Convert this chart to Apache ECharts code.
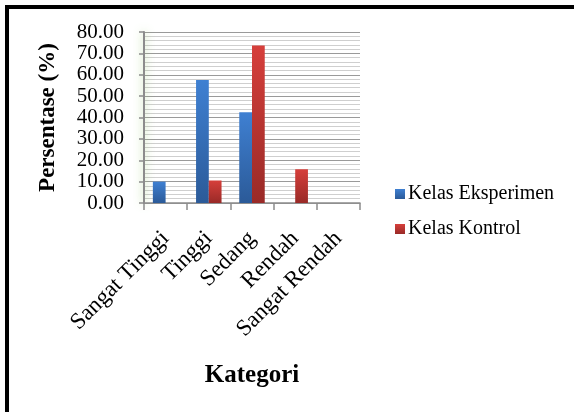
<!DOCTYPE html>
<html>
<head>
<meta charset="utf-8">
<style>
  html, body { margin: 0; padding: 0; background: #fff; }
  #chart { width: 574px; height: 412px; }
</style>
<script src="https://cdn.jsdelivr.net/npm/echarts@6/dist/echarts.min.js"></script>
</head>
<body>
<div id="chart"></div>
<script>
// Kategori hasil belajar
const categories = ['Sangat Tinggi', 'Tinggi', 'Sedang', 'Rendah', 'Sangat Rendah'];
// Persentase tiap kelas (%)
const kelasEksperimen = [10.00, 57.50, 42.50, 0, 0];
const kelasKontrol = [0, 10.53, 73.68, 15.79, 0];
const seriesNames = ['Kelas Eksperimen', 'Kelas Kontrol'];

const serif = '"Liberation Serif", "Times New Roman", serif';

function vGrad(top, bottom) {
  return new echarts.graphic.LinearGradient(0, 0, 0, 1, [
    { offset: 0, color: top },
    { offset: 1, color: bottom }
  ]);
}

const chart = echarts.init(document.getElementById('chart'), null, { renderer: 'canvas' });

chart.setOption({
  animation: false,
  backgroundColor: '#fff',
  graphic: [
    { type: 'rect', shape: { x: 5, y: 5, width: 569, height: 4 }, style: { fill: '#000' } },
    { type: 'rect', shape: { x: 5, y: 5, width: 4, height: 407 }, style: { fill: '#000' } }
  ],
  grid: { left: 144, right: 214, top: 32, bottom: 209, containLabel: false },
  legend: {
    orient: 'vertical',
    left: 390,
    top: 179,
    itemWidth: 10,
    itemHeight: 10,
    itemGap: 15,
    icon: 'rect',
    textStyle: { fontFamily: serif, fontSize: 20, color: '#000', padding: [0, 0, 0, -2] },
    data: seriesNames
  },
  xAxis: {
    type: 'category',
    data: categories,
    name: 'Kategori',
    nameLocation: 'middle',
    nameGap: 160,
    nameTextStyle: { fontFamily: serif, fontSize: 25, fontWeight: 'bold', color: '#000' },
    axisLine: { lineStyle: { color: '#8c8c8c', width: 1.5 } },
    axisTick: { show: true, length: 7, lineStyle: { color: '#8c8c8c', width: 1.5 } },
    axisLabel: {
      rotate: 45,
      margin: 32,
      fontFamily: serif,
      fontSize: 23,
      color: '#000',
      interval: 0
    }
  },
  yAxis: {
    type: 'value',
    min: 0,
    max: 80,
    interval: 10,
    name: 'Persentase (%)',
    nameLocation: 'middle',
    nameGap: 84,
    nameTextStyle: { fontFamily: serif, fontSize: 23, fontWeight: 'bold', color: '#000' },
    axisLine: {
      show: true,
      lineStyle: { color: '#8c8c8c', width: 2, shadowColor: 'rgba(140,200,90,0.7)', shadowBlur: 8 }
    },
    axisTick: { show: true, length: 5, lineStyle: { color: '#8c8c8c', width: 1.5 } },
    axisLabel: {
      margin: 20,
      fontFamily: serif,
      fontSize: 21,
      color: '#000',
      showMinLabel: true,
      showMaxLabel: true,
      hideOverlap: false,
      formatter: v => v.toFixed(2)
    },
    splitLine: { show: true, lineStyle: { color: '#9a9a9a', width: 1.2 } },
    minorTick: { show: false, splitNumber: 5 },
    minorSplitLine: { show: true, lineStyle: { color: '#cfcfcf', width: 1.2 } }
  },
  series: [
    {
      name: seriesNames[0],
      type: 'bar',
      data: kelasEksperimen,
      barGap: '0%',
      barCategoryGap: '41%',
      itemStyle: { color: vGrad('#3f80d2', '#2b5a98') }
    },
    {
      name: seriesNames[1],
      type: 'bar',
      data: kelasKontrol,
      itemStyle: { color: vGrad('#d63f3b', '#992a27') }
    }
  ]
});
</script>
</body>
</html>
